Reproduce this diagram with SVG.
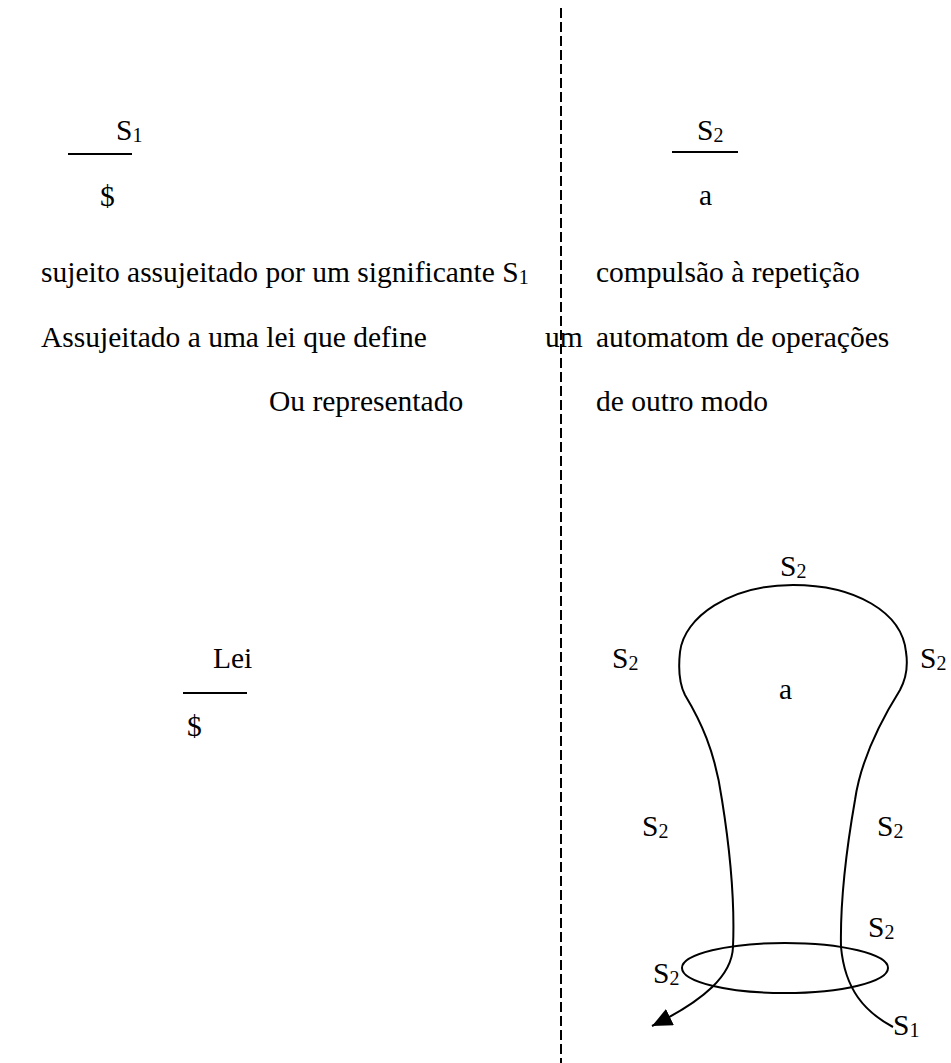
<svg xmlns="http://www.w3.org/2000/svg" width="951" height="1063" viewBox="0 0 951 1063">
<style>
text{font-family:"Liberation Serif","Times New Roman",serif;font-size:29.5px;fill:#000}
.sub{font-size:20px}
.bar{stroke:#000;stroke-width:2}
.curve{fill:none;stroke:#000;stroke-width:2}
</style>
<defs>
<marker id="arr" markerUnits="userSpaceOnUse" markerWidth="24" markerHeight="20" refX="20" refY="9" orient="auto">
<path d="M0,0 L20,9 L0,18 Z" fill="#000"/>
</marker>
</defs>
<g id="divider"><line x1="561" y1="8" x2="561" y2="1063" stroke="#000" stroke-width="2" stroke-dasharray="10,4"/></g>
<g id="frac-s1"><text x="116" y="140">S<tspan class="sub" dy="2">1</tspan></text><line class="bar" x1="68" y1="154" x2="132" y2="154"/><text x="100" y="206">$</text></g>
<g id="frac-s2"><text x="697" y="140">S<tspan class="sub" dy="2">2</tspan></text><line class="bar" x1="672" y1="152" x2="738" y2="152"/><text x="699" y="205">a</text></g>
<g id="left-text">
<text x="41" y="282">sujeito assujeitado por um significante S<tspan class="sub" dy="2">1</tspan></text>
<text x="41" y="347">Assujeitado a uma lei que define</text>
<text x="545" y="347">um</text>
<text x="269" y="411">Ou representado</text>
</g>
<g id="right-text">
<text x="596" y="282">compulsão à repetição</text>
<text x="596" y="347">automatom de operações</text>
<text x="596" y="411">de outro modo</text>
</g>
<g id="frac-lei"><text x="213" y="668">Lei</text><line class="bar" x1="183" y1="693" x2="247" y2="693"/><text x="187" y="736">$</text></g>
<g id="connectors">
<path class="curve" d="M893 1027 C865 1012,845 990,841 947 C840 900,848 840,855 800 C860 765,875 730,900 690 C907 677,908 665,906 652 C902 612,855 585,793 585 C730 585,684 617,680 652 C678 670,680 685,685 695 C700 720,715 750,722 800 C730 850,735 900,733 947 C732 975,705 1000,652 1026" marker-end="url(#arr)"/>
<ellipse class="curve" cx="785" cy="968" rx="103" ry="25"/>
</g>
<g id="labels">
<text x="780" y="576">S<tspan class="sub" dy="2">2</tspan></text>
<text x="612" y="668">S<tspan class="sub" dy="2">2</tspan></text>
<text x="920" y="668">S<tspan class="sub" dy="2">2</tspan></text>
<text x="779" y="699">a</text>
<text x="642" y="836">S<tspan class="sub" dy="2">2</tspan></text>
<text x="877" y="836">S<tspan class="sub" dy="2">2</tspan></text>
<text x="868" y="937">S<tspan class="sub" dy="2">2</tspan></text>
<text x="653" y="983">S<tspan class="sub" dy="2">2</tspan></text>
<text x="893" y="1035">S<tspan class="sub" dy="2">1</tspan></text>
</g>
</svg>
